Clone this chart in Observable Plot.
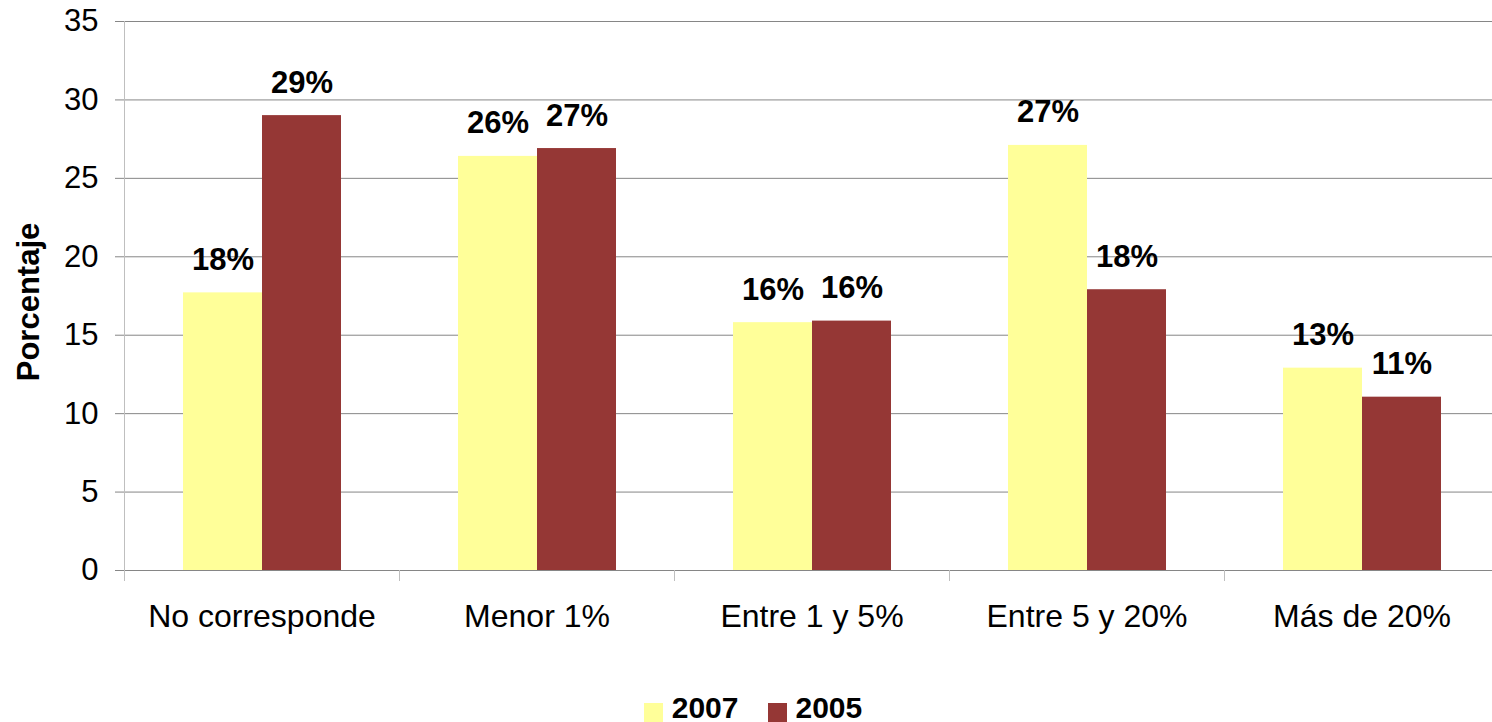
<!DOCTYPE html>
<html>
<head>
<meta charset="utf-8">
<script src="https://cdn.jsdelivr.net/npm/d3@7"></script>
<script src="https://cdn.jsdelivr.net/npm/@observablehq/plot@0.6"></script>
<style>
html, body { margin:0; padding:0; background:#fff; overflow:hidden; width:1492px; height:722px; position:relative; font-family:"Liberation Sans", Arial, sans-serif; }
#chart svg { display:block; max-width:none !important; }
#legend { position:absolute; left:0; top:693px; width:1492px; height:30px; display:flex; justify-content:center; padding-left:14px; box-sizing:border-box; font-size:30px; line-height:30px; font-weight:bold; color:#000; }
.item { display:flex; align-items:flex-start; }
.sw { width:19px; height:19px; margin-top:10px; margin-right:9px; }
.item + .item { margin-left:29px; }
</style>
</head>
<body>
<div id="chart"></div>
<div id="legend"></div>
<script>
const categories = ["No corresponde", "Menor 1%", "Entre 1 y 5%", "Entre 5 y 20%", "Más de 20%"];
const series = ["2007", "2005"];
const values2007 = [17.7, 26.4, 15.8, 27.1, 12.9];
const values2005 = [29.0, 26.9, 15.9, 17.9, 11.05];
const yTicks = [0, 5, 10, 15, 20, 25, 30, 35];
const seriesColors = ["#FFFF99", "#953735"];
const yLabel = "Porcentaje";

const data = categories.flatMap((c, i) => [
  {category: c, year: series[0], value: values2007[i]},
  {category: c, year: series[1], value: values2005[i]}
]);

const W = 1501, H = 660, mT = 21, mB = 90, mL = 122;
const plotH = H - mT - mB;
const font = '"Liberation Sans", Arial, sans-serif';

const chart = Plot.plot({
  width: W, height: H,
  marginTop: mT, marginBottom: mB, marginLeft: mL, marginRight: 0,
  style: {fontFamily: font, fontSize: "31px", color: "#000", background: "#fff", overflow: "visible"},
  fx: {domain: categories, padding: 0, label: null},
  x: {domain: series, paddingInner: 0, paddingOuter: 0.734, axis: null},
  y: {domain: [0, 35], label: null},
  color: {domain: series, range: seriesColors},
  marks: [
    Plot.gridY(yTicks, {stroke: "#868686", strokeOpacity: 1}),
    Plot.frame({anchor: "left", stroke: "#bfbfbf", insetTop: plotH, insetBottom: -10}),
    Plot.frame({anchor: "left", stroke: "#bfbfbf", insetBottom: -10, facetAnchor: "left"}),
    Plot.barY(data, {fx: "category", x: "year", y: "value", fill: "year"}),
    Plot.text(data, {fx: "category", x: "year", y: "value", text: d => Math.round(d.value) + "%",
      lineAnchor: "bottom", dy: -23, fontWeight: "bold", fontSize: 31, fill: "#000"}),
    Plot.axisY(yTicks, {tickSize: 9, tickPadding: 17, stroke: "#868686", fontSize: 31, label: null}),
    Plot.text([yLabel], {frameAnchor: "left", text: d => d, rotate: -90, textAnchor: "middle", lineAnchor: "top",
      dx: -108, dy: 6, fontWeight: "bold", fontSize: 31, fill: "#000", facetAnchor: "left"}),
    Plot.axisFx({anchor: "bottom", tickSize: 0, tickPadding: 34, fontSize: 32, label: null})
  ]
});
document.getElementById("chart").appendChild(chart);

const legend = document.getElementById("legend");
series.forEach((s, i) => {
  const item = document.createElement("div");
  item.className = "item";
  const sw = document.createElement("span");
  sw.className = "sw";
  sw.style.background = seriesColors[i];
  const t = document.createElement("span");
  t.textContent = s;
  item.appendChild(sw);
  item.appendChild(t);
  legend.appendChild(item);
});
</script>
</body>
</html>
